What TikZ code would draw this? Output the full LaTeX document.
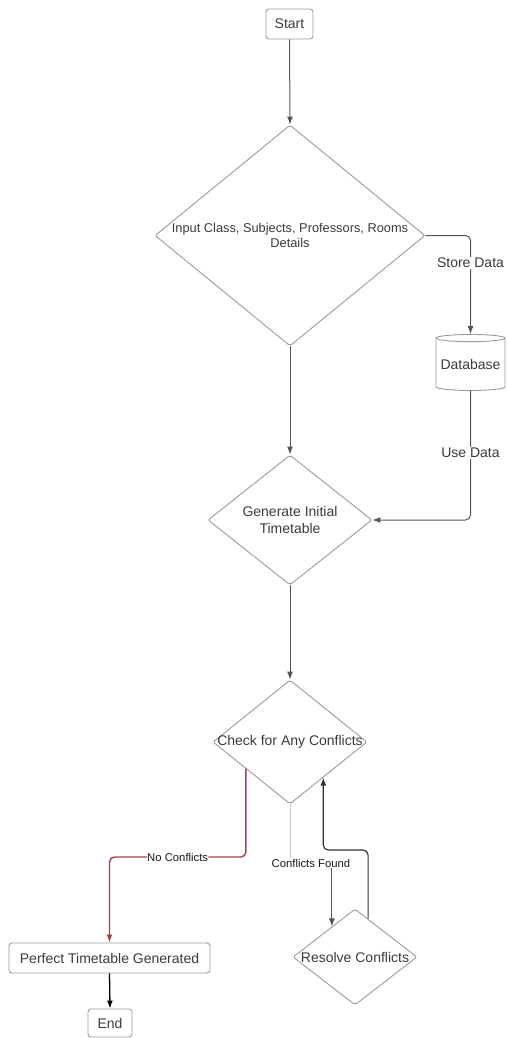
\documentclass[tikz,border=0pt]{standalone}
\usepackage{fontspec}
\setmainfont{Liberation Sans}
\usetikzlibrary{shapes.geometric,arrows.meta,calc}
\definecolor{txt}{HTML}{3A3A3A}
\definecolor{bord}{HTML}{9A9A9A}
\definecolor{linec}{HTML}{555555}
\definecolor{redl}{HTML}{A8404A}
\begin{document}
\begin{tikzpicture}[x=1pt,y=-1pt,
 box/.style={draw=bord, rounded corners=3pt, line width=0.9pt, minimum height=30pt, inner sep=0pt, font=\fontsize{14}{16}\selectfont, text=txt},
 dia/.style={diamond, draw=bord, line width=0.9pt, inner sep=0pt, rounded corners=2pt},
 dtext/.style={font=\fontsize{14}{16.5}\selectfont, text=txt, align=center},
 conn/.style={draw=linec, line width=1pt, -{Latex[length=8pt,width=6pt]}, rounded corners=5pt},
 lbl/.style={fill=white, inner sep=1pt, text=txt, font=\fontsize{14}{16}\selectfont},
 slbl/.style={fill=white, inner sep=0.5pt, text=black!90, font=\fontsize{11.3}{13}\selectfont},
]
\useasboundingbox (0,0) rectangle (507,1038);
% nodes
\node[box, minimum width=47pt] (start) at (289.5,24) {Start};
\node[dia, minimum width=270pt, minimum height=221pt] (d1) at (290,235.5) {};
\node[dtext, font=\fontsize{12.8}{14.5}\selectfont] (d1t) at (d1.center) {Input Class, Subjects, Professors, Rooms\\Details};
\node[cylinder, shape border rotate=90, draw=bord, line width=0.9pt, aspect=0.12, minimum width=69pt, minimum height=56pt, inner sep=0pt, text=txt, font=\fontsize{14}{16}\selectfont] (db) at (470.5,364.5) {Database};
\node[dia, minimum width=164pt, minimum height=130pt] (d2) at (290,520) {};
\node[dtext] (d2t) at (d2.center) {Generate Initial\\Timetable};
\node[dia, minimum width=154pt, minimum height=124pt] (d3) at (290,742) {};
\node[dtext] (d3t) at (d3.center) {Check for Any Conflicts};
\node[dia, minimum width=124pt, minimum height=96pt] (res) at (355,957) {};
\node[dtext] (rest) at (res.center) {Resolve Conflicts};
\node[box, minimum width=201pt] (perf) at (109.5,958) {Perfect Timetable Generated};
\node[box, minimum width=44pt, minimum height=28pt] (end) at (110,1023) {End};
% helper coordinates
\coordinate (r0) at ($(d3.west)!0.43!(d3.south)$);
\coordinate (ncy) at (0,857);
\coordinate (r1) at ($(res.north)!0.37!(res.west)$);
\coordinate (cfy) at (0,863);
\coordinate (r2) at ($(res.north)!0.21!(res.east)$);
\coordinate (r3) at ($(d3.east)!0.57!(d3.south)$);
\coordinate (rty) at (0,850);
% connectors
\draw[conn] (start.south) -- (d1.north);
\draw[conn] (d1.east) -| node[lbl, pos=0.64] {Store Data} (db.north);
\draw[conn] (db.south) |- node[lbl, pos=0.24] {Use Data} (d2.east);
\draw[conn] (d1.south) -- (d2.north);
\draw[conn] (d2.south) -- (d3.north);
\draw[conn, draw=redl, line width=1.4pt] (r0) |- node[slbl, pos=0.75] {No Conflicts} (perf.north |- ncy) -- (perf.north);
\draw[draw=gray!45, line width=0.9pt] (d3.south) -- (d3.south |- cfy) -- (r1 |- cfy);
\draw[conn] (r1 |- cfy) -- (r1);
\node[slbl] (cf) at ($(d3.south |- cfy)!0.5!(r1 |- cfy)$) {Conflicts Found};
\draw[conn, draw=black!80, line width=1.2pt] (r2) -- (r2 |- rty) -- (r3 |- rty) -- (r3);
\draw[conn, draw=black, line width=1.3pt] (perf.south) -- (end.north);
\end{tikzpicture}
\end{document}
